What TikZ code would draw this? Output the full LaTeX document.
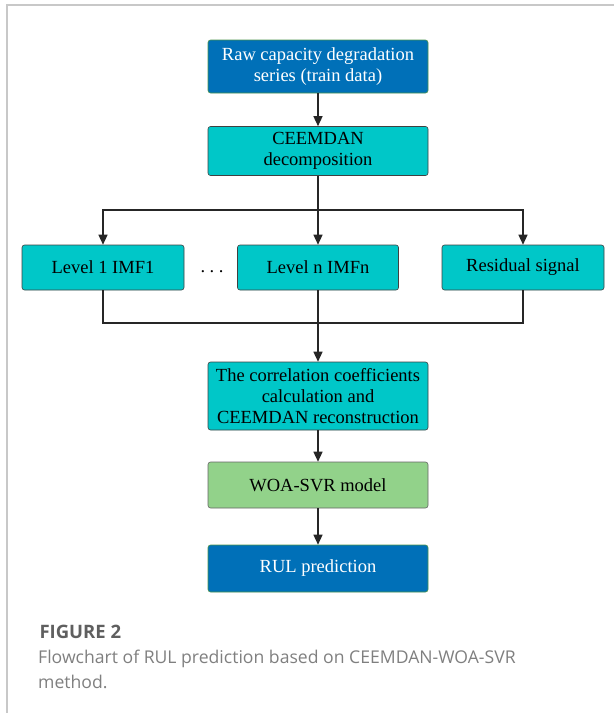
\documentclass[tikz,border=0pt]{standalone}
\usepackage{fontspec}
\setmainfont{Liberation Serif}
\newfontfamily\capfont{Open Sans}
\usetikzlibrary{shapes,arrows,arrows.meta}
\usetikzlibrary{calc}
\definecolor{rawblue}{RGB}{0, 112, 184}
\definecolor{boxcyan}{RGB}{0, 199, 200}
\definecolor{svrgreen}{RGB}{146, 210, 138}
\definecolor{framegray}{RGB}{200, 200, 200}
\definecolor{capgray}{RGB}{95, 95, 95}

\begin{document}
\begin{tikzpicture}[x=1pt,y=-1pt]

\tikzstyle{blue_block} = [draw=green!40!black!70, line width=0.6, rounded corners=2.5,
fill=rawblue, text=white, align=center, inner sep=0, font=\fontsize{18.5}{21}\selectfont]
\tikzstyle{cyan_block} = [draw=black!75, line width=0.6, rounded corners=2.5,
fill=boxcyan, text=black, align=center, inner sep=0, font=\fontsize{18.5}{21}\selectfont]
\tikzstyle{green_block} = [draw=black!60, line width=0.6, rounded corners=2.5,
fill=svrgreen, text=black, align=center, inner sep=0, font=\fontsize{18.5}{21}\selectfont]
\tikzstyle{flow} = [draw=black!85, line width=1.4]
\tikzstyle{tip} = [-{Triangle[width=9,length=10]}]

\useasboundingbox (0,0) rectangle (614,713);

% frame of the figure panel
\draw[framegray, line width=1.5] (7,713) -- (7,5) -- (614,5);

\node [blue_block, minimum width=220, minimum height=53] (raw) at (318,66.5) {Raw capacity degradation\\series (train data)};
\node [cyan_block, minimum width=220, minimum height=49] (decomp) at (318,151) {CEEMDAN\\decomposition};

\node [cyan_block, minimum width=162, minimum height=45] (imf1) at (103,267.5) {Level 1 IMF1};
\node [cyan_block, minimum width=161, minimum height=45] (imfn) at (318,267.5) {Level n IMFn};
\node [cyan_block, minimum width=162, minimum height=45] (resid) at (523,267.5) {Residual signal};
\node [font=\fontsize{18.5}{21}\selectfont] (dots) at (212,272) {.\hspace{4.5pt}.\hspace{4.5pt}.};

\node [cyan_block, minimum width=220, minimum height=68] (corr) at (318,396) {The correlation coefficients\\calculation and\\CEEMDAN reconstruction};
\node [green_block, minimum width=220, minimum height=46] (svr) at (318,485) {WOA-SVR model};
\node [blue_block, minimum width=220, minimum height=47] (rul) at (318,568.5) {RUL prediction};

\coordinate (split) at (318,210);
\coordinate (merge) at (318,323);

\draw[flow, tip] (raw) -- (decomp);
\draw[flow, tip] (decomp) -- (imfn);
\draw[flow, tip] (split) -| (imf1.north);
\draw[flow, tip] (split) -| (resid.north);

\draw[flow] (imf1.south) |- (merge) -| (resid.south);
\draw[flow, tip] (imfn) -- (corr);
\draw[flow, tip] (corr) -- (svr);
\draw[flow, tip] (svr) -- (rul);

% caption
\node[anchor=west, text=capgray, font=\capfont\bfseries\fontsize{18.5}{22}\selectfont] (figno) at (36,632) {FIGURE 2};
\node[anchor=north west, text=capgray!80, align=left, inner sep=0, font=\capfont\fontsize{17.6}{25}\selectfont] (caption) at (38,650) {Flowchart of RUL prediction based on CEEMDAN-WOA-SVR\\method.};

\end{tikzpicture}
\end{document}
